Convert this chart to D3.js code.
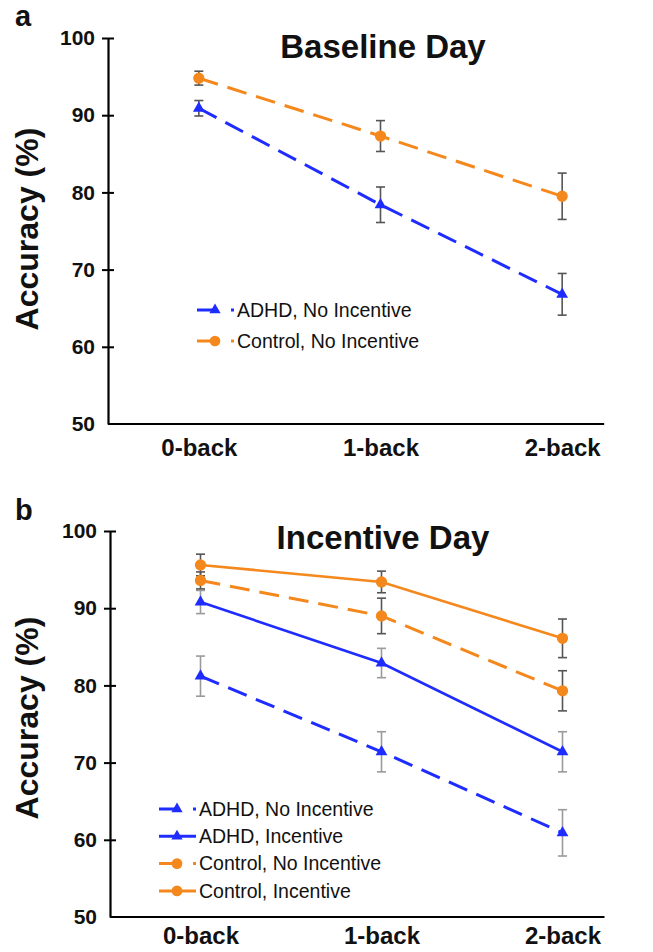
<!DOCTYPE html>
<html>
<head>
<meta charset="utf-8">
<script src="https://cdn.jsdelivr.net/npm/d3@7"></script>
<style>
body { margin: 0; background: #fff; }
svg text { font-family: "Liberation Sans", Arial, sans-serif; fill: #111; }
</style>
</head>
<body>
<div id="chart"></div>
<script>
var categories = ["0-back", "1-back", "2-back"];
var yTicks = [50, 60, 70, 80, 90, 100];

// panel a - baseline day
var baseAdhdNoInc = [90.9, 78.4, 66.8];
var baseAdhdNoIncErr = [1.0, 2.3, 2.7];
var baseCtrlNoInc = [94.8, 87.3, 79.5];
var baseCtrlNoIncErr = [0.9, 2.0, 3.0];

// panel b - incentive day
var incAdhdNoInc = [81.2, 71.4, 60.9];
var incAdhdNoIncErr = [2.6, 2.6, 3.0];
var incAdhdInc = [90.8, 82.9, 71.4];
var incAdhdIncErr = [1.5, 1.9, 2.6];
var incCtrlNoInc = [93.6, 89.0, 79.3];
var incCtrlNoIncErr = [1.1, 2.3, 2.6];
var incCtrlInc = [95.6, 93.4, 86.1];
var incCtrlIncErr = [1.4, 1.4, 2.5];

var blue = "#1f2cff", orange = "#f4881c";
var W = 653, H = 952;

var svg = d3.select("#chart").append("svg")
    .attr("width", W).attr("height", H);

function panel(vals) {
    var {letter, letterY, title, titleY, series, x0, yTop, yBottom, labelY, legendX, legendY, legendStep, xPad = 15} = vals;

    var g = svg.append("g");

    var xscale = d3.scalePoint()
        .domain(categories)
        .range([x0, W])
        .padding(0.5);

    var yscale = d3.scaleLinear()
        .domain([50, 100])
        .range([yBottom, yTop]);

    // y axis, ticks cross the line
    var yax = g.append("g")
        .attr("transform", "translate(" + x0 + ",0)")
        .call(d3.axisLeft(yscale).tickValues(yTicks).tickSize(6).tickSizeOuter(0).tickPadding(7));
    yax.selectAll(".tick line").attr("x1", 6).attr("stroke-width", 2);
    yax.select(".domain").attr("stroke-width", 2.2);
    yax.selectAll(".tick text")
        .style("font-size", "21px").style("font-weight", "bold");
    yax.selectAll(".tick").filter(d => d == 50).select("line").remove();

    // x axis
    var xax = g.append("g")
        .attr("transform", "translate(0," + yBottom + ")")
        .call(d3.axisBottom(xscale).tickSize(0).tickPadding(xPad));
    xax.select(".domain")
        .attr("d", "M" + x0 + ",0H" + (xscale(categories[2]) + 42))
        .attr("stroke-width", 2.2);
    xax.selectAll(".tick text")
        .style("font-size", "24px").style("font-weight", "bold");

    // lines
    var line = d3.line()
        .x((d, i) => xscale(categories[i]))
        .y(d => yscale(d));

    series.forEach(s => {
        g.append("path")
            .datum(s.values)
            .attr("d", line)
            .attr("fill", "none")
            .attr("stroke", s.color)
            .attr("stroke-width", s.dashed ? 3 : 2.6)
            .attr("stroke-dasharray", s.dashed ? "20,10" : null);
    });

    // error bars
    series.forEach(s => {
        var eb = g.append("g").attr("stroke", s.errColor).attr("stroke-width", 1.6);
        s.values.forEach((v, i) => {
            var cx = xscale(categories[i]);
            var lo = yscale(v - s.err[i]), hi = yscale(v + s.err[i]);
            eb.append("line").attr("x1", cx).attr("x2", cx).attr("y1", lo).attr("y2", hi);
            eb.append("line").attr("x1", cx - 4.5).attr("x2", cx + 4.5).attr("y1", lo).attr("y2", lo);
            eb.append("line").attr("x1", cx - 4.5).attr("x2", cx + 4.5).attr("y1", hi).attr("y2", hi);
        });
    });

    // markers
    series.forEach(s => {
        g.selectAll(null)
            .data(s.values)
            .enter()
            .append("path")
            .attr("d", d3.symbol(s.shape == "tri" ? d3.symbolTriangle : d3.symbolCircle, s.shape == "tri" ? 60 : 100))
            .attr("transform", (d, i) => "translate(" + xscale(categories[i]) + "," + yscale(d) + ")")
            .attr("fill", s.color);
    });

    // legend
    var lg = g.append("g").attr("transform", "translate(" + legendX + "," + legendY + ")");
    series.slice().sort((a, b) => a.legendOrder - b.legendOrder).forEach((s, k) => {
        var row = lg.append("g").attr("transform", "translate(0," + (k * legendStep) + ")");
        row.append("line")
            .attr("x1", 0).attr("x2", 37).attr("y1", 0).attr("y2", 0)
            .attr("stroke", s.color)
            .attr("stroke-width", 3)
            .attr("stroke-dasharray", s.dashed ? "18,16" : null);
        row.append("path")
            .attr("d", d3.symbol(s.shape == "tri" ? d3.symbolTriangle : d3.symbolCircle, s.shape == "tri" ? 55 : 90))
            .attr("transform", "translate(18,0)")
            .attr("fill", s.color);
        row.append("text")
            .attr("x", 40)
            .attr("y", 0)
            .attr("dy", "0.35em")
            .style("font-size", "19.5px")
            .text(s.name);
    });

    // titles and labels
    g.append("text")
        .attr("x", 383).attr("y", titleY)
        .attr("text-anchor", "middle")
        .style("font-size", "33px").style("font-weight", "bold")
        .text(title);

    g.append("text")
        .attr("x", 15).attr("y", letterY)
        .style("font-size", "29px").style("font-weight", "bold")
        .text(letter);

    g.append("text")
        .attr("transform", "translate(38," + labelY + ") rotate(-90)")
        .attr("text-anchor", "middle")
        .style("font-size", "32px").style("font-weight", "bold")
        .text("Accuracy (%)");
}

panel({
    letter: "a", letterY: 26,
    title: "Baseline Day", titleY: 58,
    x0: 108, yTop: 38, yBottom: 424, labelY: 229,
    legendX: 197, legendY: 310, legendStep: 31,
    series: [
        {name: "ADHD, No Incentive", values: baseAdhdNoInc, err: baseAdhdNoIncErr, color: blue, dashed: true, shape: "tri", errColor: "#555", legendOrder: 0},
        {name: "Control, No Incentive", values: baseCtrlNoInc, err: baseCtrlNoIncErr, color: orange, dashed: true, shape: "circle", errColor: "#555", legendOrder: 1}
    ]
});

panel({
    letter: "b", letterY: 520,
    title: "Incentive Day", titleY: 549,
    x0: 110, yTop: 531, yBottom: 917, labelY: 718,
    legendX: 159, legendY: 809, legendStep: 27.3, xPad: 10,
    series: [
        {name: "ADHD, No Incentive", values: incAdhdNoInc, err: incAdhdNoIncErr, color: blue, dashed: true, shape: "tri", errColor: "#9a9a9a", legendOrder: 0},
        {name: "ADHD, Incentive", values: incAdhdInc, err: incAdhdIncErr, color: blue, dashed: false, shape: "tri", errColor: "#9a9a9a", legendOrder: 1},
        {name: "Control, No Incentive", values: incCtrlNoInc, err: incCtrlNoIncErr, color: orange, dashed: true, shape: "circle", errColor: "#555", legendOrder: 2},
        {name: "Control, Incentive", values: incCtrlInc, err: incCtrlIncErr, color: orange, dashed: false, shape: "circle", errColor: "#555", legendOrder: 3}
    ]
});
</script>
</body>
</html>
